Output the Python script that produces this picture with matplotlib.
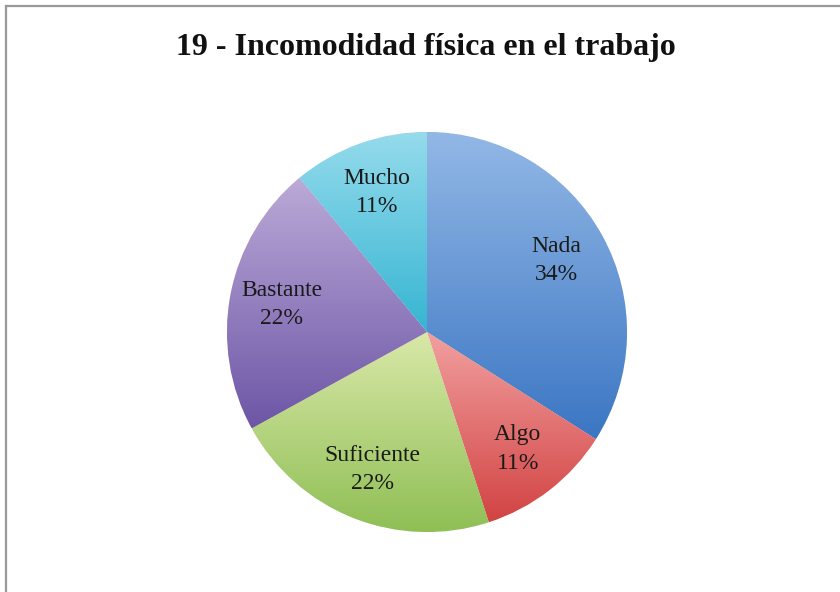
import numpy as np
import matplotlib
matplotlib.use('Agg')
import matplotlib.pyplot as plt
from matplotlib.lines import Line2D

# Data
categorias = ['Nada', 'Algo', 'Suficiente', 'Bastante', 'Mucho']
porcentajes = [34, 11, 22, 22, 11]
titulo = '19 - Incomodidad física en el trabajo'

# gradient colours per slice (top, bottom)
colores = [('#93b8e6', '#3b76c3'),
           ('#f2a0a0', '#d24343'),
           ('#d9e8a8', '#8fbf55'),
           ('#bcaad8', '#6c56a6'),
           ('#95dbec', '#36b5d2')]

plt.rcParams['font.family'] = ['Liberation Serif', 'DejaVu Serif']

fig = plt.figure(figsize=(8.4, 5.92), dpi=100)
fig.patch.set_facecolor('white')

# frame lines (left and top)
fig.add_artist(Line2D([5.5 / 840, 5.5 / 840], [0, 1 - 6 / 592], color='#9a9a9a', lw=1.6))
fig.add_artist(Line2D([5.5 / 840, 1], [1 - 6 / 592, 1 - 6 / 592], color='#9a9a9a', lw=1.6))

ax = fig.add_axes([227 / 840, 60 / 592, 400 / 840, 400 / 592])
wedges, _ = ax.pie(porcentajes, startangle=90, counterclock=False, radius=1,
                   wedgeprops=dict(edgecolor='white', linewidth=0.6))

grad = np.linspace(0, 1, 256).reshape(-1, 1)
for w, (c_top, c_bot) in zip(wedges, colores):
    ext = w.get_path().get_extents()
    cmap = matplotlib.colors.LinearSegmentedColormap.from_list('g', [c_bot, c_top])
    im = ax.imshow(grad, cmap=cmap, aspect='auto', origin='lower',
                   extent=[ext.x0, ext.x1, ext.y0, ext.y1], zorder=w.get_zorder() + 0.1)
    im.set_clip_path(w)

for w, cat, p in zip(wedges, categorias, porcentajes):
    ang = np.deg2rad((w.theta1 + w.theta2) / 2)
    r = 0.74
    ax.text(r * np.cos(ang), r * np.sin(ang), f'{cat}\n{p}%', ha='center', va='center',
            fontsize=17, color='#1a1a1a', linespacing=1.45, zorder=10)

ax.set_xlim(-1.0, 1.0)
ax.set_ylim(-1.0, 1.0)
ax.set_aspect('auto')
ax.axis('off')

fig.text(426 / 840, 1 - 47 / 592, titulo, ha='center', va='center',
         fontsize=23, fontweight='bold', color='#111111')

fig.savefig('out.png', dpi=100)
